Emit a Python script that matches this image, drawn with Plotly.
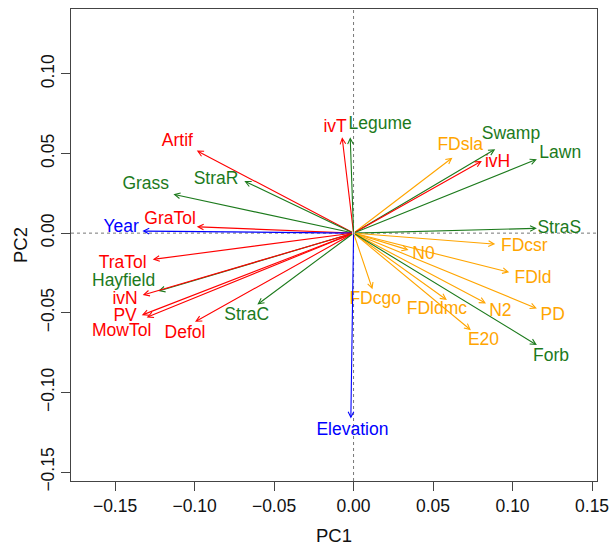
import plotly.graph_objects as go

# ---- data (PCA loadings) ----
names = ["Artif", "StraR", "Grass", "GraTol", "Year", "TraTol", "Hayfield", "ivN", "PV",
         "MowTol", "Defol", "StraC", "ivT", "Legume", "Swamp", "FDsla", "ivH", "Lawn",
         "StraS", "FDcsr", "N0", "FDld", "PD", "N2", "FDldmc", "E20", "Forb", "FDcgo",
         "Elevation"]
pc1 = [-0.0986, -0.0687, -0.1133, -0.0986, -0.1328, -0.1263, -0.1228, -0.1326, -0.1332,
       -0.1301, -0.0997, -0.0605, -0.0072, -0.0021, 0.0891, 0.0622, 0.0807, 0.1153,
       0.1153, 0.0891, 0.0346, 0.0979, 0.1153, 0.0833, 0.0587, 0.0738, 0.1153, 0.0119,
       -0.0017]
pc2 = [0.0518, 0.0327, 0.0244, 0.0040, 0.0013, -0.0165, -0.0364, -0.0389, -0.0515,
       -0.0529, -0.0557, -0.0448, 0.0602, 0.0602, 0.0527, 0.0474, 0.0453, 0.0464,
       0.0030, -0.0069, -0.0106, -0.0246, -0.0473, -0.0441, -0.0420, -0.0609, -0.0703,
       -0.0353, -0.1164]
label_x = [-0.1108, -0.0865, -0.1307, -0.1154, -0.1462, -0.1452, -0.1446, -0.1437, -0.1437,
           -0.1458, -0.1060, -0.0672, -0.0116, 0.0167, 0.0990, 0.0671, 0.0906, 0.1300,
           0.1294, 0.1074, 0.0440, 0.1128, 0.1252, 0.0923, 0.0524, 0.0817, 0.1242, 0.0136,
           -0.0007]
label_y = [0.0574, 0.0334, 0.0302, 0.0082, 0.0034, -0.0190, -0.0305, -0.0420, -0.0521,
           -0.0620, -0.0630, -0.0515, 0.0665, 0.0679, 0.0617, 0.0547, 0.0445, 0.0502,
           0.0030, -0.0085, -0.0138, -0.0288, -0.0515, -0.0494, -0.0483, -0.0672, -0.0777,
           -0.0416, -0.1242]
groups = ["mgmt", "veg", "veg", "mgmt", "env", "mgmt", "veg", "mgmt", "mgmt",
          "mgmt", "mgmt", "veg", "mgmt", "veg", "veg", "fd", "mgmt", "veg",
          "veg", "fd", "fd", "fd", "fd", "fd", "fd", "fd", "veg", "fd",
          "env"]
group_colors = {"mgmt": "#FF0000", "veg": "#1C7A1C", "fd": "#FFA500", "env": "#0000FF"}

x_ticks = [-0.15, -0.10, -0.05, 0.00, 0.05, 0.10, 0.15]
y_ticks = [-0.15, -0.10, -0.05, 0.00, 0.05, 0.10]
x_range = [-0.1777, 0.1531]
y_range = [-0.1556, 0.1407]

def fmt(v):
    s = f"{abs(v):.2f}"
    return ("\u2212" + s) if v < 0 else s

FONT = "Liberation Sans, Arial, Helvetica, sans-serif"

fig = go.Figure()

# reference lines at zero
fig.add_trace(go.Scatter(x=x_range, y=[0, 0], mode="lines",
                         line=dict(color="#777777", width=1, dash="dot"),
                         hoverinfo="skip", showlegend=False))
fig.add_trace(go.Scatter(x=[0, 0], y=y_range, mode="lines",
                         line=dict(color="#777777", width=1, dash="dot"),
                         hoverinfo="skip", showlegend=False))

# labels, grouped by colour
for g, col in group_colors.items():
    idx = [i for i, gg in enumerate(groups) if gg == g]
    fig.add_trace(go.Scatter(
        x=[label_x[i] for i in idx], y=[label_y[i] for i in idx],
        text=[names[i] for i in idx], mode="text",
        textposition="middle center",
        textfont=dict(family=FONT, size=17.5, color=col),
        hoverinfo="text", showlegend=False, cliponaxis=False))

annotations = []
for i in range(len(names)):
    annotations.append(dict(
        x=pc1[i], y=pc2[i], xref="x", yref="y",
        ax=0, ay=0, axref="x", ayref="y",
        text="", showarrow=True, arrowhead=5, arrowsize=1.0, arrowwidth=1.1,
        arrowcolor=group_colors[groups[i]], standoff=0, startstandoff=0))

# axis titles
annotations.append(dict(text="PC1", x=0.5, y=-0.1152, xref="paper", yref="paper",
                        showarrow=False, xanchor="center", yanchor="middle",
                        font=dict(family=FONT, size=18.5, color="#111111")))
annotations.append(dict(text="PC2", x=-0.097, y=0.5, xref="paper", yref="paper",
                        showarrow=False, xanchor="center", yanchor="middle", textangle=-90,
                        font=dict(family=FONT, size=18.5, color="#111111")))

axis_common = dict(showgrid=False, zeroline=False, showline=True, mirror=True,
                   linecolor="#444444", linewidth=1, ticks="outside", ticklen=9,
                   tickcolor="#444444", tickwidth=1, automargin=False,
                   tickfont=dict(family=FONT, size=17.5, color="#111111"))

fig.update_layout(
    template="none",
    width=610, height=545,
    margin=dict(l=71, r=13, t=9, b=64, autoexpand=False),
    paper_bgcolor="white", plot_bgcolor="white",
    xaxis=dict(range=x_range, tickvals=x_ticks, ticktext=[fmt(v) for v in x_ticks],
               **axis_common),
    yaxis=dict(range=y_range, tickvals=y_ticks, ticktext=[fmt(v) for v in y_ticks],
               tickangle=-90, **axis_common),
    annotations=annotations,
    showlegend=False,
)

fig.write_html("out.html",
               config={"displayModeBar": False},
               post_script="document.body.style.margin='0';document.body.style.padding='0';")
